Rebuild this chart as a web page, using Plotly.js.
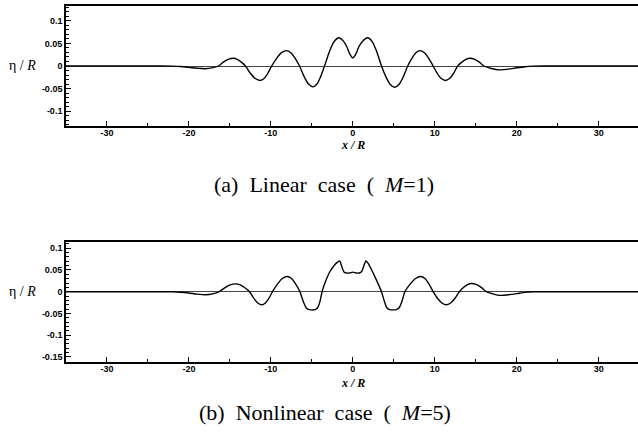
<!DOCTYPE html>
<html>
<head>
<meta charset="utf-8">
<script src="https://cdn.plot.ly/plotly-3.0.1.min.js"></script>
<style>
html,body{margin:0;padding:0;background:#fff;overflow:hidden;}
#chart{width:638px;height:436px;}
</style>
</head>
<body>
<div id="chart"></div>
<script>
// Panel (a): linear case, M = 1  — [x/R, eta/R]
const linearPoints = [
  [-35,0],[-24,0],[-22,-0.0003],[-21,-0.0012],[-20,-0.003],[-19,-0.005],[-18,-0.006],[-17.2,-0.0042],[-16.4,0],
  [-15.8,0.0085],[-15.2,0.0147],[-14.6,0.017],[-14.1,0.0147],[-13.6,0.0085],[-13.1,0],
  [-12.5,-0.016],[-11.9,-0.0277],[-11.3,-0.032],[-10.83,-0.0277],[-10.37,-0.016],[-9.9,0],
  [-9.3,0.017],[-8.7,0.0294],[-8.1,0.034],[-7.57,0.0294],[-7.03,0.017],[-6.5,0],
  [-5.95,-0.023],[-5.4,-0.0398],[-4.85,-0.046],[-4.38,-0.0398],[-3.92,-0.023],[-3.45,0],
  [-2.87,0.031],[-2.28,0.054],[-1.7,0.0625],[-1.2,0.056],[-0.75,0.043],[-0.35,0.026],[0,0.018],
  [0.35,0.026],[0.75,0.043],[1.25,0.056],[1.8,0.0625],[2.37,0.054],[2.93,0.031],[3.5,0],
  [4.03,-0.0235],[4.57,-0.0407],[5.1,-0.047],[5.63,-0.0407],[6.17,-0.0235],[6.7,0],
  [7.2,0.017],[7.7,0.0294],[8.2,0.034],[8.73,0.0294],[9.27,0.017],[9.8,0],
  [10.3,-0.016],[10.8,-0.0277],[11.3,-0.032],[11.8,-0.0277],[12.3,-0.016],[12.8,0],
  [13.3,0.0085],[13.8,0.0147],[14.3,0.017],[14.87,0.0147],[15.43,0.0085],[16.0,0],
  [16.7,-0.0045],[17.3,-0.0073],[18,-0.0085],[19,-0.007],[20,-0.004],[21,-0.0015],[22,-0.0003],[24,0],[35,0]
];

// Panel (b): nonlinear case, M = 5
const nonlinearPoints = [
  [-35,0],[-24,0],[-22,-0.0003],[-21,-0.0012],[-20,-0.003],[-19,-0.0055],[-18,-0.007],[-17.1,-0.005],[-16.3,0],
  [-15.63,0.009],[-14.97,0.0156],[-14.3,0.018],[-13.73,0.0156],[-13.17,0.009],[-12.6,0],
  [-12.1,-0.015],[-11.6,-0.026],[-11.1,-0.030],[-10.67,-0.026],[-10.23,-0.015],[-9.8,0],
  [-9.2,0.0175],[-8.6,0.0303],[-8.0,0.035],[-7.48,0.0303],[-6.97,0.0175],[-6.45,0],
  [-6.0,-0.025],[-5.65,-0.038],[-5.3,-0.0415],[-5.0,-0.042],[-4.6,-0.0415],[-4.3,-0.037],[-4.0,-0.022],[-3.75,0],
  [-3.3,0.025],[-2.8,0.046],[-2.2,0.062],[-1.85,0.068],[-1.6,0.071],[-1.35,0.058],[-1.1,0.046],[-0.8,0.043],
  [-0.4,0.043],[0,0.045],[0.4,0.043],[0.8,0.043],[1.1,0.047],[1.35,0.06],[1.6,0.071],[1.85,0.066],[2.3,0.05],[2.9,0.026],[3.5,0],
  [3.85,-0.022],[4.15,-0.037],[4.5,-0.0415],[4.9,-0.042],[5.3,-0.0415],[5.65,-0.037],[6.0,-0.022],[6.35,0],
  [7.0,0.0175],[7.65,0.0303],[8.3,0.035],[8.8,0.0303],[9.3,0.0175],[9.8,0],
  [10.33,-0.015],[10.87,-0.026],[11.4,-0.030],[11.93,-0.026],[12.47,-0.015],[13.0,0],
  [13.5,0.0095],[14.0,0.0165],[14.5,0.019],[15.1,0.0165],[15.7,0.0095],[16.3,0],
  [17.0,-0.0045],[17.5,-0.0072],[18.1,-0.0085],[19,-0.0072],[20,-0.0045],[21,-0.0015],[22,-0.0003],[24,0],[35,0]
];

// Tick labels
const xTickVals = [-30,-20,-10,0,10,20,30];
const xTickText = ["-30","-20","-10","0","10","20","30"];
const yTickValsA = [-0.1,-0.05,0,0.05,0.1];
const yTickTextA = ["-0.1","-0.05","0","0.05","0.1"];
const yTickValsB = [-0.15,-0.1,-0.05,0,0.05,0.1];
const yTickTextB = ["-0.15","-0.1","-0.05","0","0.05","0.1"];

const captionA = "(a)&nbsp; Linear&nbsp; case&nbsp; (&nbsp; <i>M</i>=1)";
const captionB = "(b)&nbsp; Nonlinear&nbsp; case&nbsp; (&nbsp; <i>M</i>=5)";
const yLabel = "η / <i>R</i>";
const xLabel = "<i>x / R</i>";

const W = 638, H = 436;
const tickFont = {family: "Liberation Sans, Arial, sans-serif", size: 9, color: "#000", weight: "bold"};

function xAxis(anchor) {
  return {
    anchor: anchor, domain: [66/W, 1], range: [-35, 34.8],
    showgrid: false, zeroline: false,
    showline: true, linecolor: "#000", linewidth: 1.8, mirror: true,
    ticks: "inside", ticklen: 5, tickwidth: 1, tickcolor: "#000",
    tickvals: xTickVals, ticktext: xTickText, tickfont: tickFont,
    ticklabelstandoff: -3,
    minor: {dtick: 5, tick0: 0, ticks: "inside", ticklen: 3, tickcolor: "#000", tickwidth: 1},
    fixedrange: true
  };
}
function yAxis(anchor, dom, rng, vals, text) {
  return {
    anchor: anchor, domain: dom, range: rng,
    showgrid: false, zeroline: true, zerolinecolor: "#444", zerolinewidth: 1,
    showline: true, linecolor: "#000", linewidth: 1.8, mirror: false,
    ticks: "inside", ticklen: 5, tickwidth: 1, tickcolor: "#000",
    tickvals: vals, ticktext: text, tickfont: tickFont,
    minor: {dtick: 0.01, tick0: 0, ticks: "inside", ticklen: 3, tickcolor: "#000", tickwidth: 1},
    fixedrange: true
  };
}

const traces = [
  {x: linearPoints.map(p => p[0]), y: linearPoints.map(p => p[1]), xaxis: "x", yaxis: "y",
   type: "scatter", mode: "lines",
   line: {color: "#000", width: 1.4, shape: "spline", smoothing: 0.8}, hoverinfo: "skip"},
  {x: nonlinearPoints.map(p => p[0]), y: nonlinearPoints.map(p => p[1]), xaxis: "x2", yaxis: "y2",
   type: "scatter", mode: "lines",
   line: {color: "#000", width: 1.4, shape: "spline", smoothing: 0.6}, hoverinfo: "skip"}
];

const serif = "Liberation Serif, Times New Roman, serif";
const layout = {
  width: W, height: H,
  margin: {l: 0, r: 0, t: 0, b: 0},
  paper_bgcolor: "#fff", plot_bgcolor: "#fff",
  showlegend: false,
  xaxis: xAxis("y"),
  yaxis: yAxis("x", [(H-126)/H, (H-6)/H], [-0.1325, 0.1325], yTickValsA, yTickTextA),
  xaxis2: xAxis("y2"),
  yaxis2: yAxis("x2", [(H-362)/H, (H-242)/H], [-0.162, 0.1145], yTickValsB, yTickTextB),
  annotations: [
    {text: yLabel, xref: "paper", yref: "paper", x: 22/W, y: (H-66)/H, showarrow: false,
     font: {family: serif, size: 14, color: "#000"}, xanchor: "center", yanchor: "middle"},
    {text: yLabel, xref: "paper", yref: "paper", x: 22/W, y: (H-291)/H, showarrow: false,
     font: {family: serif, size: 14, color: "#000"}, xanchor: "center", yanchor: "middle"},
    {text: xLabel, xref: "paper", yref: "paper", x: 353/W, y: (H-145)/H, showarrow: false,
     font: {family: serif, size: 12, color: "#000", weight: "bold"}, xanchor: "center", yanchor: "middle"},
    {text: xLabel, xref: "paper", yref: "paper", x: 353/W, y: (H-383)/H, showarrow: false,
     font: {family: serif, size: 12, color: "#000", weight: "bold"}, xanchor: "center", yanchor: "middle"},
    {text: captionA, xref: "paper", yref: "paper", x: 324/W, y: (H-185)/H, showarrow: false,
     font: {family: serif, size: 22, color: "#000"}, xanchor: "center", yanchor: "middle"},
    {text: captionB, xref: "paper", yref: "paper", x: 325/W, y: (H-412)/H, showarrow: false,
     font: {family: serif, size: 22, color: "#000"}, xanchor: "center", yanchor: "middle"}
  ]
};

Plotly.newPlot("chart", traces, layout, {staticPlot: true, displayModeBar: false});
</script>
</body>
</html>
